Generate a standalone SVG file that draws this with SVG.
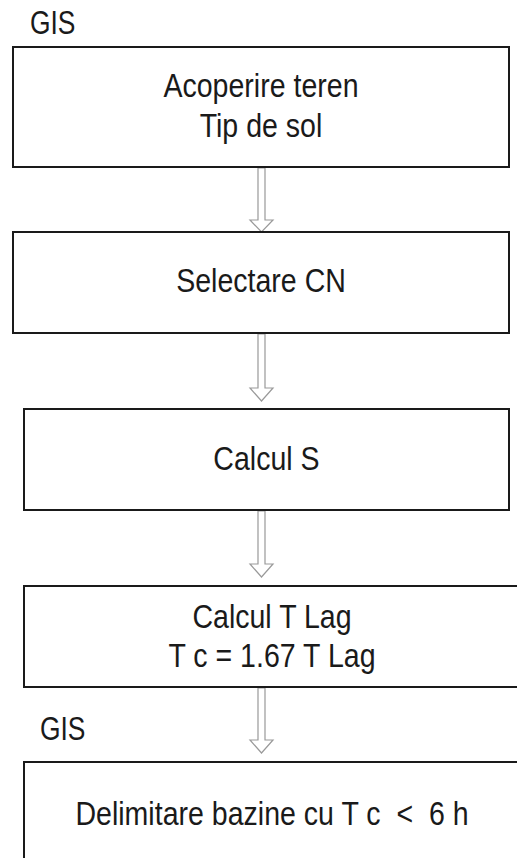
<svg xmlns="http://www.w3.org/2000/svg" width="517" height="858" viewBox="0 0 517 858">
<style>
.box{fill:#fff;stroke:#1a1a1a;stroke-width:2}
.t{font-family:"Liberation Sans",Arial,sans-serif;font-size:34px;fill:#1a1a1a;text-anchor:middle;white-space:pre}
.lbl{font-family:"Liberation Sans",Arial,sans-serif;font-size:33px;fill:#1a1a1a;text-anchor:start}
.arr{fill:#fff;stroke:#999;stroke-width:1.2;stroke-linejoin:miter}
</style>
<rect width="517" height="858" fill="#fff"/>
<text class="lbl" transform="translate(30,34) scale(0.8,1)">GIS</text>
<text class="lbl" transform="translate(40,740) scale(0.8,1)">GIS</text>
<g id="connectors">
<path class="arr" d="M258,168 L265,168 L265,220 L273,220 L261.5,232 L250,220 L258,220 Z"/>
<path class="arr" d="M258,334 L265,334 L265,388 L273,388 L261.5,401 L250,388 L258,388 Z"/>
<path class="arr" d="M258,511 L265,511 L265,564 L273,564 L261.5,577 L250,564 L258,564 Z"/>
<path class="arr" d="M258,688 L265,688 L265,740 L273,740 L261.5,753 L250,740 L258,740 Z"/>
</g>
<g id="n1">
<rect class="box" x="13" y="47" width="496" height="120"/>
<text class="t" transform="translate(261,97) scale(0.84,1)">Acoperire teren</text>
<text class="t" transform="translate(261,137) scale(0.84,1)">Tip de sol</text>
</g>
<g id="n2">
<rect class="box" x="13" y="232" width="496" height="101"/>
<text class="t" transform="translate(261,292) scale(0.84,1)">Selectare CN</text>
</g>
<g id="n3">
<rect class="box" x="24" y="409" width="485" height="101"/>
<text class="t" transform="translate(266.5,470) scale(0.84,1)">Calcul S</text>
</g>
<g id="n4">
<rect class="box" x="24" y="586" width="496" height="101"/>
<text class="t" transform="translate(272,628) scale(0.84,1)">Calcul T Lag</text>
<text class="t" transform="translate(272,667) scale(0.84,1)">T c = 1.67 T Lag</text>
</g>
<g id="n5">
<rect class="box" x="24" y="762" width="496" height="120"/>
<text class="t" transform="translate(272,825) scale(0.84,1)">Delimitare bazine cu T c  &lt;  6 h</text>
</g>
</svg>
